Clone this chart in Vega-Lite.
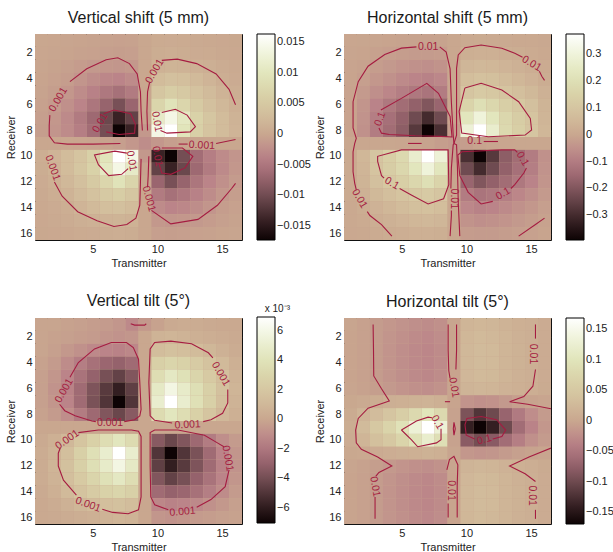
{
"$schema":"https://vega.github.io/schema/vega-lite/v6.json",
"padding":{"left":5,"top":9,"right":0,"bottom":0},
"background":"white",
"config":{
 "font":"Liberation Sans",
 "view":{"stroke":"#111","strokeWidth":1,"fill":"#c9a78f"},
 "axis":{"domain":false,"grid":false,"ticks":false,"tickColor":"#222","tickWidth":1,"labelFontSize":11,"labelColor":"#222","labelPadding":3,"titleFontSize":11,"titleFontWeight":"normal","titleColor":"#222","titlePadding":3,"labelFont":"Liberation Sans","titleFont":"Liberation Sans"},
 "title":{"fontSize":16,"fontWeight":"normal","color":"#1a1a1a","font":"Liberation Sans","offset":8,"anchor":"middle"},
 "legend":{"gradientLength":206,"gradientThickness":18,"gradientStrokeColor":"#000","gradientStrokeWidth":1,"labelFontSize":11,"labelColor":"#222","labelOffset":3,"labelOverlap":false,"labelFont":"Liberation Sans","titleFont":"Liberation Sans","titleFontSize":10,"titleFontWeight":"normal","titleColor":"#222"}
},
"datasets":{
"grid":[
{"p":"VS","r":1,"v":[0,-0.0001,-0.0002,-0.0003,-0.0004,-0.0005,-0.0006,-0.0005,0,0.0005,0.0006,0.0005,0.0004,0.0003,0.0002,0.0001]},
{"p":"VS","r":2,"v":[-0.0001,-0.0002,-0.0003,-0.0005,-0.0006,-0.0008,-0.0009,-0.0008,0,0.0008,0.0009,0.0008,0.0006,0.0005,0.0003,0.0002]},
{"p":"VS","r":3,"v":[-0.0002,-0.0004,-0.0007,-0.0011,-0.0014,-0.0016,-0.0017,-0.0015,0,0.0015,0.0017,0.0016,0.0014,0.0011,0.0007,0.0004]},
{"p":"VS","r":4,"v":[-0.0003,-0.0006,-0.001,-0.0018,-0.0026,-0.0032,-0.0035,-0.0028,0,0.0028,0.0035,0.0032,0.0026,0.0018,0.001,0.0006]},
{"p":"VS","r":5,"v":[-0.0004,-0.0009,-0.0016,-0.0027,-0.0038,-0.0049,-0.0057,-0.0045,-0.0001,0.0045,0.0057,0.0049,0.0038,0.0027,0.0016,0.0009]},
{"p":"VS","r":6,"v":[-0.0006,-0.0012,-0.0023,-0.0035,-0.0051,-0.0072,-0.0095,-0.007,-0.0002,0.007,0.0095,0.0072,0.0051,0.0035,0.0023,0.0012]},
{"p":"VS","r":7,"v":[-0.0008,-0.0016,-0.0029,-0.0045,-0.0066,-0.0105,-0.014,-0.011,-0.0005,0.011,0.014,0.0105,0.0066,0.0045,0.0029,0.0016]},
{"p":"VS","r":8,"v":[-0.0009,-0.0018,-0.0028,-0.0041,-0.0061,-0.0098,-0.0173,-0.014,-0.0015,0.014,0.0163,0.0098,0.0061,0.0041,0.0028,0.0018]},
{"p":"VS","r":9,"v":[0,0,0,-0.0001,-0.0002,-0.0004,-0.0008,-0.0016,-0.0026,-0.0016,-0.0008,-0.0004,-0.0002,-0.0001,0,0]},
{"p":"VS","r":10,"v":[0.0009,0.0018,0.0028,0.0041,0.0061,0.0098,0.0163,0.014,-0.0015,-0.014,-0.0173,-0.0098,-0.0061,-0.0041,-0.0028,-0.0018]},
{"p":"VS","r":11,"v":[0.0008,0.0016,0.0029,0.0045,0.0066,0.0105,0.014,0.011,-0.0005,-0.011,-0.014,-0.0105,-0.0066,-0.0045,-0.0029,-0.0016]},
{"p":"VS","r":12,"v":[0.0006,0.0012,0.0023,0.0035,0.0051,0.0072,0.0095,0.007,-0.0002,-0.007,-0.0095,-0.0072,-0.0051,-0.0035,-0.0023,-0.0012]},
{"p":"VS","r":13,"v":[0.0004,0.0009,0.0016,0.0027,0.0038,0.0049,0.0057,0.0045,-0.0001,-0.0045,-0.0057,-0.0049,-0.0038,-0.0027,-0.0016,-0.0009]},
{"p":"VS","r":14,"v":[0.0003,0.0006,0.001,0.0018,0.0026,0.0032,0.0035,0.0028,0,-0.0028,-0.0035,-0.0032,-0.0026,-0.0018,-0.001,-0.0006]},
{"p":"VS","r":15,"v":[0.0002,0.0004,0.0007,0.0011,0.0014,0.0016,0.0017,0.0015,0,-0.0015,-0.0017,-0.0016,-0.0014,-0.0011,-0.0007,-0.0004]},
{"p":"VS","r":16,"v":[0.0001,0.0002,0.0003,0.0005,0.0006,0.0008,0.0009,0.0008,0,-0.0008,-0.0009,-0.0008,-0.0006,-0.0005,-0.0003,-0.0002]},
{"p":"HS","r":1,"v":[-0.002,-0.003,-0.005,-0.007,-0.009,-0.01,-0.011,-0.009,0,0.009,0.011,0.01,0.009,0.007,0.005,0.003]},
{"p":"HS","r":2,"v":[-0.004,-0.007,-0.013,-0.018,-0.023,-0.027,-0.028,-0.024,0,0.024,0.028,0.027,0.023,0.018,0.013,0.007]},
{"p":"HS","r":3,"v":[-0.006,-0.012,-0.022,-0.032,-0.042,-0.05,-0.054,-0.046,0,0.046,0.054,0.05,0.042,0.032,0.022,0.012]},
{"p":"HS","r":4,"v":[-0.007,-0.018,-0.035,-0.05,-0.065,-0.078,-0.085,-0.072,0,0.072,0.085,0.078,0.065,0.05,0.035,0.018]},
{"p":"HS","r":5,"v":[-0.008,-0.03,-0.055,-0.075,-0.095,-0.11,-0.12,-0.1,0,0.1,0.12,0.11,0.095,0.075,0.055,0.03]},
{"p":"HS","r":6,"v":[-0.008,-0.04,-0.08,-0.11,-0.14,-0.17,-0.2,-0.16,-0.003,0.16,0.2,0.17,0.14,0.11,0.08,0.04]},
{"p":"HS","r":7,"v":[-0.008,-0.045,-0.095,-0.13,-0.17,-0.23,-0.3,-0.23,-0.008,0.23,0.3,0.23,0.17,0.13,0.095,0.045]},
{"p":"HS","r":8,"v":[-0.008,-0.05,-0.1,-0.14,-0.18,-0.27,-0.393,-0.29,-0.02,0.29,0.376,0.27,0.18,0.14,0.1,0.05]},
{"p":"HS","r":9,"v":[0,0,0,0,-0.002,-0.005,-0.01,-0.02,-0.03,-0.02,-0.01,-0.005,-0.002,0,0,0]},
{"p":"HS","r":10,"v":[0.008,0.05,0.1,0.14,0.18,0.27,0.376,0.29,-0.02,-0.29,-0.393,-0.27,-0.18,-0.14,-0.1,-0.05]},
{"p":"HS","r":11,"v":[0.008,0.045,0.095,0.13,0.17,0.23,0.3,0.23,-0.008,-0.23,-0.3,-0.23,-0.17,-0.13,-0.095,-0.045]},
{"p":"HS","r":12,"v":[0.008,0.04,0.08,0.11,0.14,0.17,0.2,0.16,-0.003,-0.16,-0.2,-0.17,-0.14,-0.11,-0.08,-0.04]},
{"p":"HS","r":13,"v":[0.008,0.03,0.055,0.075,0.095,0.11,0.12,0.1,0,-0.1,-0.12,-0.11,-0.095,-0.075,-0.055,-0.03]},
{"p":"HS","r":14,"v":[0.007,0.018,0.035,0.05,0.065,0.078,0.085,0.072,0,-0.072,-0.085,-0.078,-0.065,-0.05,-0.035,-0.018]},
{"p":"HS","r":15,"v":[0.006,0.012,0.022,0.032,0.042,0.05,0.054,0.046,0,-0.046,-0.054,-0.05,-0.042,-0.032,-0.022,-0.012]},
{"p":"HS","r":16,"v":[0.004,0.007,0.013,0.018,0.023,0.027,0.028,0.024,0,-0.024,-0.028,-0.027,-0.023,-0.018,-0.013,-0.007]},
{"p":"VT","r":1,"v":[-0.0001,-0.0001,-0.0002,-0.0003,-0.0004,-0.0005,-0.0007,-0.0012,-0.0006,-0.0002,0.0002,0.0003,0.0003,0.0002,0.0001,0.0001]},
{"p":"VT","r":2,"v":[-0.0001,-0.0002,-0.0003,-0.0004,-0.0005,-0.0007,-0.0008,-0.0007,0,0.0007,0.0008,0.0007,0.0005,0.0004,0.0003,0.0002]},
{"p":"VT","r":3,"v":[-0.0001,-0.0003,-0.0006,-0.0009,-0.0012,-0.0014,-0.0015,-0.0013,0,0.0013,0.0015,0.0014,0.0012,0.0009,0.0006,0.0003]},
{"p":"VT","r":4,"v":[-0.0002,-0.0005,-0.0011,-0.0017,-0.0023,-0.0028,-0.003,-0.0026,0,0.0026,0.003,0.0028,0.0023,0.0017,0.0011,0.0005]},
{"p":"VT","r":5,"v":[-0.0003,-0.0007,-0.0014,-0.0022,-0.003,-0.0039,-0.0045,-0.0036,0,0.0036,0.0045,0.0039,0.003,0.0022,0.0014,0.0007]},
{"p":"VT","r":6,"v":[-0.0003,-0.0008,-0.0015,-0.0026,-0.0037,-0.0048,-0.0059,-0.0046,0,0.0046,0.0059,0.0048,0.0037,0.0026,0.0015,0.0008]},
{"p":"VT","r":7,"v":[-0.0003,-0.0007,-0.0014,-0.0026,-0.0038,-0.005,-0.00705,-0.005,0,0.005,0.00694,0.005,0.0038,0.0026,0.0014,0.0007]},
{"p":"VT","r":8,"v":[-0.0002,-0.0005,-0.001,-0.0018,-0.0027,-0.0036,-0.0043,-0.0034,0,0.0034,0.0043,0.0036,0.0027,0.0018,0.001,0.0005]},
{"p":"VT","r":9,"v":[0,0,0,0,0,0,0,0,0,0,0,0,0,0,0,0]},
{"p":"VT","r":10,"v":[0.0002,0.0005,0.001,0.0018,0.0027,0.0036,0.0043,0.0034,0,-0.0034,-0.0043,-0.0036,-0.0027,-0.0018,-0.001,-0.0005]},
{"p":"VT","r":11,"v":[0.0003,0.0007,0.0014,0.0026,0.0038,0.005,0.00694,0.005,0,-0.005,-0.00705,-0.005,-0.0038,-0.0026,-0.0014,-0.0007]},
{"p":"VT","r":12,"v":[0.0003,0.0008,0.0015,0.0026,0.0037,0.0048,0.0059,0.0046,0,-0.0046,-0.0059,-0.0048,-0.0037,-0.0026,-0.0015,-0.0008]},
{"p":"VT","r":13,"v":[0.0003,0.0007,0.0014,0.0022,0.003,0.0039,0.0045,0.0036,0,-0.0036,-0.0045,-0.0039,-0.003,-0.0022,-0.0014,-0.0007]},
{"p":"VT","r":14,"v":[0.0002,0.0005,0.0011,0.0017,0.0023,0.0028,0.003,0.0026,0,-0.0026,-0.003,-0.0028,-0.0023,-0.0017,-0.0011,-0.0005]},
{"p":"VT","r":15,"v":[0.0001,0.0003,0.0006,0.0009,0.0012,0.0014,0.0015,0.0013,0,-0.0013,-0.0015,-0.0014,-0.0012,-0.0009,-0.0006,-0.0003]},
{"p":"VT","r":16,"v":[0.0001,0.0002,0.0003,0.0004,0.0005,0.0007,0.0008,0.0007,0,-0.0007,-0.0008,-0.0007,-0.0005,-0.0004,-0.0003,-0.0002]},
{"p":"HT","r":1,"v":[-0.002,-0.006,-0.011,-0.015,-0.019,-0.023,-0.026,-0.022,-0.002,0.019,0.022,0.021,0.017,0.013,0.011,0.006]},
{"p":"HT","r":2,"v":[-0.003,-0.006,-0.011,-0.017,-0.022,-0.027,-0.03,-0.025,-0.003,0.022,0.026,0.024,0.019,0.014,0.011,0.006]},
{"p":"HT","r":3,"v":[-0.003,-0.006,-0.011,-0.018,-0.024,-0.029,-0.032,-0.027,-0.003,0.024,0.028,0.026,0.02,0.015,0.011,0.006]},
{"p":"HT","r":4,"v":[-0.003,-0.006,-0.011,-0.018,-0.024,-0.029,-0.032,-0.027,-0.003,0.024,0.028,0.026,0.02,0.015,0.011,0.006]},
{"p":"HT","r":5,"v":[-0.003,-0.006,-0.011,-0.017,-0.023,-0.028,-0.031,-0.026,-0.003,0.023,0.027,0.025,0.019,0.014,0.011,0.006]},
{"p":"HT","r":6,"v":[-0.002,-0.005,-0.009,-0.014,-0.018,-0.022,-0.024,-0.02,-0.002,0.018,0.021,0.02,0.016,0.013,0.01,0.005]},
{"p":"HT","r":7,"v":[0.001,0.004,0.008,0.011,0.013,0.015,0.017,0.013,-0.003,-0.018,-0.022,-0.02,-0.014,-0.008,-0.004,-0.002]},
{"p":"HT","r":8,"v":[0.005,0.018,0.03,0.045,0.06,0.08,0.1,0.08,-0.005,-0.09,-0.12,-0.1,-0.07,-0.045,-0.025,-0.012]},
{"p":"HT","r":9,"v":[0.008,0.028,0.05,0.07,0.095,0.13,0.168,0.13,-0.005,-0.14,-0.169,-0.14,-0.1,-0.06,-0.035,-0.015]},
{"p":"HT","r":10,"v":[0.006,0.02,0.035,0.05,0.07,0.095,0.12,0.09,-0.005,-0.08,-0.095,-0.08,-0.06,-0.04,-0.022,-0.012]},
{"p":"HT","r":11,"v":[0.001,0.003,0.006,0.009,0.011,0.013,0.015,0.012,-0.002,-0.015,-0.018,-0.016,-0.012,-0.007,-0.004,-0.002]},
{"p":"HT","r":12,"v":[-0.002,-0.005,-0.009,-0.014,-0.018,-0.022,-0.024,-0.02,-0.002,0.018,0.021,0.02,0.016,0.013,0.01,0.005]},
{"p":"HT","r":13,"v":[-0.003,-0.006,-0.011,-0.017,-0.023,-0.028,-0.031,-0.026,-0.003,0.023,0.027,0.025,0.019,0.014,0.011,0.006]},
{"p":"HT","r":14,"v":[-0.003,-0.006,-0.011,-0.018,-0.024,-0.029,-0.032,-0.027,-0.003,0.024,0.028,0.026,0.02,0.015,0.011,0.006]},
{"p":"HT","r":15,"v":[-0.003,-0.006,-0.011,-0.018,-0.024,-0.029,-0.032,-0.027,-0.003,0.024,0.028,0.026,0.02,0.015,0.011,0.006]},
{"p":"HT","r":16,"v":[-0.003,-0.006,-0.011,-0.017,-0.022,-0.027,-0.03,-0.025,-0.003,0.022,0.026,0.024,0.019,0.014,0.011,0.006]}
],
"cont":[
{"p":"VS","s":"a1","t":[3.2,4.5,6.0,6.9,7.8,8.4,8.65,8.7,8.8],"r":[4.2,3.2,2.5,2.35,2.8,3.6,5.0,6.5,8.0]},
{"p":"VS","s":"a2","t":[7.1,5.0,3.0,2.0,1.6,1.6,1.65],"r":[9.0,9.05,9.05,8.95,8.4,7.6,6.8]},
{"p":"VS","s":"b1","t":[6.0,7.0,8.2,8.25,7.9,6.6,5.8],"r":[8.1,8.3,8.2,7.5,6.7,6.4,6.7]},
{"p":"VS","s":"c1","t":[9.2,9.15,9.2,9.35],"r":[8.0,6.5,5.0,4.3]},
{"p":"VS","s":"c2","t":[10.3,11.5,13.0,14.5,15.5,16.0],"r":[2.55,2.45,2.8,3.6,4.8,6.0]},
{"p":"VS","s":"c3","t":[11.6,12.3],"r":[9.05,9.05]},
{"p":"VS","s":"c4","t":[14.5,16.0],"r":[9.0,8.7]},
{"p":"VS","s":"d1","t":[10.2,10.7,12.5,12.9,12.26,11.35,10.3],"r":[8.0,8.2,8.1,7.7,6.8,6.35,6.6]},
{"p":"VS","s":"e1","t":[2.0,2.6,3.8,5.3,6.6,7.6,8.3,8.6,8.65,8.7],"r":[12.0,13.1,14.3,15.0,15.45,15.3,14.8,13.8,12.0,10.2]},
{"p":"VS","s":"f1","t":[7.7,7.2,6.2,5.4,5.1,6.67,7.6],"r":[10.95,11.4,11.5,10.65,9.9,9.6,9.75]},
{"p":"VS","s":"g1","t":[9.3,9.25,9.2],"r":[10.0,11.5,12.4]},
{"p":"VS","s":"g2","t":[9.5,11.0,13.1,14.6,15.7,16.0],"r":[14.2,15.25,14.9,13.8,12.5,12.1]},
{"p":"VS","s":"h1","t":[10.1,10.3,11.0,12.1,12.7,11.9,10.3],"r":[10.6,11.3,11.4,10.9,10.0,9.36,9.36]},
{"p":"HS","s":"O1","t":[6.1,4.94,3.65,2.36,1.6,1.2,1.2,1.45,1.33,1.2,1.2,1.33,1.45],"r":[1.5,1.6,2.1,3.0,4.2,5.76,7.8,8.6,9.0,9.65,11.2,12.1,12.6]},
{"p":"HS","s":"O2","t":[2.3,2.5,3.4,4.2],"r":[14.3,14.6,15.3,16.2]},
{"p":"HS","s":"O3","t":[7.9,8.4,8.7,8.8,8.94,9.0,8.94,8.8,8.76],"r":[1.5,1.9,3.2,5.8,8.35,9.0,9.1,10.9,12.5]},
{"p":"HS","s":"O4","t":[8.8,8.8,8.7],"r":[14.2,14.6,16.2]},
{"p":"HS","s":"O5","t":[9.0,9.2,9.2,9.2,9.33,9.84,11.1,12.7,13.7,14.3],"r":[9.0,8.35,5.76,3.17,2.13,1.56,1.35,1.6,2.0,2.3]},
{"p":"HS","s":"O6","t":[15.6,15.8,16.0],"r":[3.4,3.8,4.1]},
{"p":"HS","s":"O7","t":[9.0,9.2,9.27,9.33,9.45],"r":[9.0,9.1,10.9,13.5,16.2]},
{"p":"HS","s":"O8","t":[14.0,15.3,16.0],"r":[16.2,15.3,14.8]},
{"p":"HS","s":"N1","t":[3.35,4.94,6.9,7.8,8.7,8.85,8.0,6.0,4.0,3.4,3.2],"r":[6.4,5.5,4.33,5.1,6.9,8.5,8.45,8.4,8.3,8.2,7.8]},
{"p":"HS","s":"N2","t":[9.84,11.1,12.7,14.0,14.9,15.0,14.5,11.65,9.6,9.4,9.84],"r":[4.7,4.33,4.85,5.76,7.05,7.96,8.35,8.48,8.2,6.5,4.7]},
{"p":"HS","s":"N3","t":[4.8,5.7,7.0,8.2,8.6,8.55,4.94,3.1,3.1,3.4,3.6],"r":[12.5,13.0,13.7,13.3,12.2,9.5,9.5,10.0,10.4,11.5,11.7]},
{"p":"HS","s":"N4","t":[13.9,13.7,12.7,9.6,9.3,9.45,10.1,11.1,12.0],"r":[9.7,9.5,9.5,9.65,9.9,11.5,12.8,13.7,13.5]},
{"p":"HS","s":"N5","t":[13.4,13.7,14.4,14.6],"r":[12.5,12.2,11.3,10.9]},
{"p":"HS","s":"H1","t":[5.45,6.5],"r":[9.0,9.0]},
{"p":"HS","s":"H2","t":[11.3,12.4],"r":[8.85,8.85]},
{"p":"VT","s":"T0","t":[7.9,8.2,8.98,9.1],"r":[0.95,1.05,1.05,0.95]},
{"p":"VT","s":"U1","t":[3.2,3.85,5.1,6.4,7.57,8.1,8.5,8.6,8.7,8.6,8.2,7.4],"r":[5.1,3.96,2.9,2.4,2.4,2.8,3.7,5.5,7.6,8.1,8.4,8.55]},
{"p":"VT","s":"U2","t":[5.2,4.9,3.6,2.8,2.4],"r":[8.55,8.5,8.1,7.7,7.2]},
{"p":"VT","s":"V1","t":[14.25,13.9,12.6,11.0,9.75,9.4,9.3,9.4,9.75,11.1],"r":[3.6,3.2,2.5,2.3,2.4,2.9,5.5,8.1,8.45,8.65]},
{"p":"VT","s":"V2","t":[13.5,14.1,15.0,15.4,15.4],"r":[8.55,8.4,7.9,7.1,6.05]},
{"p":"VT","s":"W1","t":[3.85,5.4,7.96,8.5,8.7,8.7,8.7,8.5,7.7,6.5,5.7],"r":[9.4,9.2,9.2,9.3,9.7,12.0,14.4,15.4,15.7,15.6,15.35]},
{"p":"VT","s":"W2","t":[3.7,2.7,2.3,2.3,2.45],"r":[14.25,13.1,12.0,11.0,10.6]},
{"p":"VT","s":"X1","t":[9.4,9.4,9.75,11.55,13.6,14.6,15.1],"r":[9.65,9.4,9.2,9.2,9.6,10.2,10.5]},
{"p":"VT","s":"X2","t":[15.5,15.2,14.1,13.0],"r":[12.3,13.6,14.6,15.2]},
{"p":"VT","s":"X3","t":[10.8,9.75,9.45,9.4,9.4],"r":[15.4,15.0,14.4,12.0,9.65]},
{"p":"HT","s":"L1","t":[2.75,2.78,2.8,3.4,4.0,2.36,1.6,1.4,1.45,1.84,3.1,4.2,3.2,2.95],"r":[1.0,3.0,5.0,6.0,6.95,7.5,8.3,9.2,10.2,10.7,11.3,12.0,12.5,12.8]},
{"p":"HT","s":"L2","t":[2.9,2.9,2.9],"r":[14.4,15.5,16.1]},
{"p":"HT","s":"R1","t":[15.3,15.3],"r":[1.0,2.1]},
{"p":"HT","s":"R2","t":[15.3,15.1,14.4,13.3,14.7,16.5],"r":[4.5,5.8,6.6,7.0,7.2,7.55]},
{"p":"HT","s":"R3","t":[16.5,14.8,13.3,14.5,15.3],"r":[10.6,11.3,12.0,12.6,13.2]},
{"p":"HT","s":"R4","t":[15.3,15.3],"r":[15.4,16.1]},
{"p":"HT","s":"C1","t":[8.55,8.55,8.6,8.7],"r":[1.0,3.0,4.6,5.2]},
{"p":"HT","s":"C2","t":[9.2,9.2,9.15],"r":[1.0,3.0,4.5]},
{"p":"HT","s":"C3","t":[8.3,8.7],"r":[7.0,7.0]},
{"p":"HT","s":"C4","t":[9.0,9.1,9.0,8.95,9.0],"r":[8.6,9.1,9.6,9.1,8.6]},
{"p":"HT","s":"C5","t":[8.45,8.65,9.0,9.3,9.25,9.25],"r":[12.3,11.5,11.25,11.9,13.5,16.0]},
{"p":"HT","s":"C6","t":[8.55,8.55],"r":[14.9,16.0]},
{"p":"HT","s":"I1","t":[4.94,6.1,7.0,7.3],"r":[9.2,8.5,8.2,8.25]},
{"p":"HT","s":"I2","t":[8.0,8.0,7.65,6.2,5.7,4.94],"r":[9.1,9.95,10.2,10.5,9.95,9.2]},
{"p":"HT","s":"I3","t":[10.6,9.95,9.85,10.0,11.1,12.3,13.0,12.7,12.0],"r":[9.9,9.6,8.8,8.3,8.15,8.4,9.2,9.7,9.9]}
],
"labs":[
{"p":"VS","lab":"0.001","t":2.3,"r":5.6,"a":-60},
{"p":"VS","lab":"0.01","t":5.55,"r":7.4,"a":-60},
{"p":"VS","lab":"0.001","t":9.75,"r":3.4,"a":-60},
{"p":"VS","lab":"0.001","t":13.4,"r":9.15,"a":3},
{"p":"VS","lab":"0.01","t":9.9,"r":7.3,"a":80},
{"p":"VS","lab":"0.001","t":1.85,"r":10.9,"a":70},
{"p":"VS","lab":"0.01","t":7.95,"r":10.35,"a":80},
{"p":"VS","lab":"0.001","t":9.3,"r":13.3,"a":75},
{"p":"VS","lab":"0.01","t":9.95,"r":10.0,"a":80},
{"p":"HS","lab":"0.01","t":7.0,"r":1.54,"a":0},
{"p":"HS","lab":"0.01","t":15.0,"r":2.8,"a":30},
{"p":"HS","lab":"0.01","t":1.7,"r":13.3,"a":60},
{"p":"HS","lab":"0.01","t":9.0,"r":13.3,"a":90},
{"p":"HS","lab":"0.1","t":3.3,"r":7.1,"a":-70},
{"p":"HS","lab":"0.1","t":10.6,"r":8.8,"a":0},
{"p":"HS","lab":"0.1","t":4.2,"r":12.1,"a":30},
{"p":"HS","lab":"0.1","t":12.8,"r":12.9,"a":-30},
{"p":"HS","lab":"0.1","t":14.3,"r":10.2,"a":60},
{"p":"VT","lab":"0.001","t":2.75,"r":6.15,"a":-60},
{"p":"VT","lab":"0.001","t":6.3,"r":8.65,"a":0},
{"p":"VT","lab":"0.001","t":14.85,"r":4.85,"a":60},
{"p":"VT","lab":"0.001","t":12.3,"r":8.8,"a":-3},
{"p":"VT","lab":"0.001","t":3.0,"r":9.95,"a":-35},
{"p":"VT","lab":"0.001","t":4.6,"r":15.0,"a":20},
{"p":"VT","lab":"0.001","t":15.4,"r":11.4,"a":80},
{"p":"VT","lab":"0.001","t":11.9,"r":15.55,"a":-5},
{"p":"HT","lab":"0.01","t":2.9,"r":13.6,"a":80},
{"p":"HT","lab":"0.01","t":15.1,"r":3.3,"a":90},
{"p":"HT","lab":"0.01","t":15.05,"r":14.3,"a":90},
{"p":"HT","lab":"0.01","t":9.0,"r":5.9,"a":80},
{"p":"HT","lab":"0.01","t":8.75,"r":13.9,"a":90},
{"p":"HT","lab":"0.1","t":7.7,"r":8.6,"a":60},
{"p":"HT","lab":"0.1","t":11.35,"r":9.95,"a":-15}
]
},
"concat":[
{"title":"Vertical shift (5 mm)","width":207,"height":206,
 "resolve":{"scale":{"x":"independent","y":"independent"},"axis":{"x":"independent","y":"independent"}},
 "layer":[
  {"data":{"name":"grid"},"transform":[{"filter":"datum.p==='VS'"},{"flatten":["v"]},{"window":[{"op":"row_number","as":"t"}],"groupby":["r"]}],
   "mark":{"type":"rect"},
   "encoding":{
    "x":{"field":"t","type":"ordinal","scale":{"paddingInner":0,"paddingOuter":0},"axis":{"values":[5,10,15],"title":"Transmitter","labelAngle":0}},
    "y":{"field":"r","type":"ordinal","scale":{"paddingInner":0,"paddingOuter":0},"axis":{"values":[2,4,6,8,10,12,14,16],"title":"Receiver"}},
    "color":{"field":"v","type":"quantitative","scale":{"domain":[-0.0173,-0.01384,-0.01038,-0.00692,-0.00346,0,0.00326,0.00652,0.00978,0.01304,0.0163],"range":["#0d0304","#3b2427","#6c494e","#9b6670","#bb8489","#c9a78f","#d3bf9d","#d9d2a8","#e1e5bb","#eff3da","#ffffff"],"interpolate":"rgb","clamp":true},
     "legend":{"type":"gradient","values":[-0.015,-0.01,-0.005,0,0.005,0.01,0.015],"labelExpr":"format(datum.value,'~g')","orient":"none","legendX":222,"legendY":0,"direction":"vertical","title":null}}
   }},
  {"data":{"name":"cont"},"transform":[{"filter":"datum.p==='VS'"},{"flatten":["t","r"]},{"window":[{"op":"row_number","as":"o"}],"groupby":["s"]}],
   "mark":{"type":"line","color":"#a51c41","strokeWidth":1.1,"clip":true},
   "encoding":{
    "x":{"field":"t","type":"quantitative","scale":{"domain":[0.5,16.5],"nice":false,"zero":false},"axis":{"orient":"top","values":[5,10,15],"labels":false,"title":null,"ticks":true,"tickSize":3,"offset":-3}},
    "y":{"field":"r","type":"quantitative","scale":{"domain":[0.5,16.5],"nice":false,"zero":false,"reverse":true},"axis":{"orient":"right","values":[2,4,6,8,10,12,14,16],"labels":false,"title":null,"ticks":true,"tickSize":3,"offset":-3}},
    "detail":{"field":"s"},"order":{"field":"o"}
   }},
  {"data":{"name":"labs"},"transform":[{"filter":"datum.p==='VS'"}],
   "mark":{"type":"text","color":"#a51c41","fontSize":10.5,"font":"Liberation Sans"},
   "encoding":{
    "x":{"field":"t","type":"quantitative","scale":{"domain":[0.5,16.5],"nice":false,"zero":false},"axis":{"orient":"bottom","values":[5,10,15],"labels":false,"title":null,"ticks":true,"tickSize":3,"offset":-3}},
    "y":{"field":"r","type":"quantitative","scale":{"domain":[0.5,16.5],"nice":false,"zero":false,"reverse":true},"axis":{"orient":"left","values":[2,4,6,8,10,12,14,16],"labels":false,"title":null,"ticks":true,"tickSize":3,"offset":-3}},
    "text":{"field":"lab"},"angle":{"field":"a","type":"quantitative","scale":null}
   }}
 ]},
{"title":"Horizontal shift (5 mm)","width":207,"height":206,
 "resolve":{"scale":{"x":"independent","y":"independent"},"axis":{"x":"independent","y":"independent"}},
 "layer":[
  {"data":{"name":"grid"},"transform":[{"filter":"datum.p==='HS'"},{"flatten":["v"]},{"window":[{"op":"row_number","as":"t"}],"groupby":["r"]}],
   "mark":{"type":"rect"},
   "encoding":{
    "x":{"field":"t","type":"ordinal","scale":{"paddingInner":0,"paddingOuter":0},"axis":{"values":[5,10,15],"title":"Transmitter","labelAngle":0}},
    "y":{"field":"r","type":"ordinal","scale":{"paddingInner":0,"paddingOuter":0},"axis":{"values":[2,4,6,8,10,12,14,16],"title":"Receiver"}},
    "color":{"field":"v","type":"quantitative","scale":{"domain":[-0.393,-0.3144,-0.2358,-0.1572,-0.0786,0,0.0752,0.1504,0.2256,0.3008,0.376],"range":["#0d0304","#3b2427","#6c494e","#9b6670","#bb8489","#c9a78f","#d3bf9d","#d9d2a8","#e1e5bb","#eff3da","#ffffff"],"interpolate":"rgb","clamp":true},
     "legend":{"type":"gradient","values":[-0.3,-0.2,-0.1,0,0.1,0.2,0.3],"labelExpr":"format(datum.value,'~g')","orient":"none","legendX":222,"legendY":0,"direction":"vertical","title":null}}
   }},
  {"data":{"name":"cont"},"transform":[{"filter":"datum.p==='HS'"},{"flatten":["t","r"]},{"window":[{"op":"row_number","as":"o"}],"groupby":["s"]}],
   "mark":{"type":"line","color":"#a51c41","strokeWidth":1.1,"clip":true},
   "encoding":{
    "x":{"field":"t","type":"quantitative","scale":{"domain":[0.5,16.5],"nice":false,"zero":false},"axis":{"orient":"top","values":[5,10,15],"labels":false,"title":null,"ticks":true,"tickSize":3,"offset":-3}},
    "y":{"field":"r","type":"quantitative","scale":{"domain":[0.5,16.5],"nice":false,"zero":false,"reverse":true},"axis":{"orient":"right","values":[2,4,6,8,10,12,14,16],"labels":false,"title":null,"ticks":true,"tickSize":3,"offset":-3}},
    "detail":{"field":"s"},"order":{"field":"o"}
   }},
  {"data":{"name":"labs"},"transform":[{"filter":"datum.p==='HS'"}],
   "mark":{"type":"text","color":"#a51c41","fontSize":10.5,"font":"Liberation Sans"},
   "encoding":{
    "x":{"field":"t","type":"quantitative","scale":{"domain":[0.5,16.5],"nice":false,"zero":false},"axis":{"orient":"bottom","values":[5,10,15],"labels":false,"title":null,"ticks":true,"tickSize":3,"offset":-3}},
    "y":{"field":"r","type":"quantitative","scale":{"domain":[0.5,16.5],"nice":false,"zero":false,"reverse":true},"axis":{"orient":"left","values":[2,4,6,8,10,12,14,16],"labels":false,"title":null,"ticks":true,"tickSize":3,"offset":-3}},
    "text":{"field":"lab"},"angle":{"field":"a","type":"quantitative","scale":null}
   }}
 ]},
{"title":{"text":"Vertical tilt (5°)","dy":13},"width":207,"height":206,
 "resolve":{"scale":{"x":"independent","y":"independent"},"axis":{"x":"independent","y":"independent"}},
 "layer":[
  {"data":{"name":"grid"},"transform":[{"filter":"datum.p==='VT'"},{"flatten":["v"]},{"window":[{"op":"row_number","as":"t"}],"groupby":["r"]}],
   "mark":{"type":"rect"},
   "encoding":{
    "x":{"field":"t","type":"ordinal","scale":{"paddingInner":0,"paddingOuter":0},"axis":{"values":[5,10,15],"title":"Transmitter","labelAngle":0}},
    "y":{"field":"r","type":"ordinal","scale":{"paddingInner":0,"paddingOuter":0},"axis":{"values":[2,4,6,8,10,12,14,16],"title":"Receiver"}},
    "color":{"field":"v","type":"quantitative","scale":{"domain":[-0.00705,-0.00564,-0.00423,-0.00282,-0.00141,0,0.001388,0.002776,0.004164,0.005552,0.00694],"range":["#0d0304","#3b2427","#6c494e","#9b6670","#bb8489","#c9a78f","#d3bf9d","#d9d2a8","#e1e5bb","#eff3da","#ffffff"],"interpolate":"rgb","clamp":true},
     "legend":{"type":"gradient","values":[-0.006,-0.004,-0.002,0,0.002,0.004,0.006],"labelExpr":"format(datum.value*1000,'~g')","orient":"none","legendX":222,"legendY":-14,"direction":"vertical","title":"x 10⁻³","titleAnchor":"end","titlePadding":3}}
   }},
  {"data":{"name":"cont"},"transform":[{"filter":"datum.p==='VT'"},{"flatten":["t","r"]},{"window":[{"op":"row_number","as":"o"}],"groupby":["s"]}],
   "mark":{"type":"line","color":"#a51c41","strokeWidth":1.1,"clip":true},
   "encoding":{
    "x":{"field":"t","type":"quantitative","scale":{"domain":[0.5,16.5],"nice":false,"zero":false},"axis":{"orient":"top","values":[5,10,15],"labels":false,"title":null,"ticks":true,"tickSize":3,"offset":-3}},
    "y":{"field":"r","type":"quantitative","scale":{"domain":[0.5,16.5],"nice":false,"zero":false,"reverse":true},"axis":{"orient":"right","values":[2,4,6,8,10,12,14,16],"labels":false,"title":null,"ticks":true,"tickSize":3,"offset":-3}},
    "detail":{"field":"s"},"order":{"field":"o"}
   }},
  {"data":{"name":"labs"},"transform":[{"filter":"datum.p==='VT'"}],
   "mark":{"type":"text","color":"#a51c41","fontSize":10.5,"font":"Liberation Sans"},
   "encoding":{
    "x":{"field":"t","type":"quantitative","scale":{"domain":[0.5,16.5],"nice":false,"zero":false},"axis":{"orient":"bottom","values":[5,10,15],"labels":false,"title":null,"ticks":true,"tickSize":3,"offset":-3}},
    "y":{"field":"r","type":"quantitative","scale":{"domain":[0.5,16.5],"nice":false,"zero":false,"reverse":true},"axis":{"orient":"left","values":[2,4,6,8,10,12,14,16],"labels":false,"title":null,"ticks":true,"tickSize":3,"offset":-3}},
    "text":{"field":"lab"},"angle":{"field":"a","type":"quantitative","scale":null}
   }}
 ]},
{"title":"Horizontal tilt (5°)","width":207,"height":206,
 "resolve":{"scale":{"x":"independent","y":"independent"},"axis":{"x":"independent","y":"independent"}},
 "layer":[
  {"data":{"name":"grid"},"transform":[{"filter":"datum.p==='HT'"},{"flatten":["v"]},{"window":[{"op":"row_number","as":"t"}],"groupby":["r"]}],
   "mark":{"type":"rect"},
   "encoding":{
    "x":{"field":"t","type":"ordinal","scale":{"paddingInner":0,"paddingOuter":0},"axis":{"values":[5,10,15],"title":"Transmitter","labelAngle":0}},
    "y":{"field":"r","type":"ordinal","scale":{"paddingInner":0,"paddingOuter":0},"axis":{"values":[2,4,6,8,10,12,14,16],"title":"Receiver"}},
    "color":{"field":"v","type":"quantitative","scale":{"domain":[-0.169,-0.1352,-0.1014,-0.0676,-0.0338,0,0.0336,0.0672,0.1008,0.1344,0.168],"range":["#0d0304","#3b2427","#6c494e","#9b6670","#bb8489","#c9a78f","#d3bf9d","#d9d2a8","#e1e5bb","#eff3da","#ffffff"],"interpolate":"rgb","clamp":true},
     "legend":{"type":"gradient","values":[-0.15,-0.1,-0.05,0,0.05,0.1,0.15],"labelExpr":"format(datum.value,'~g')","orient":"none","legendX":222,"legendY":0,"direction":"vertical","title":null}}
   }},
  {"data":{"name":"cont"},"transform":[{"filter":"datum.p==='HT'"},{"flatten":["t","r"]},{"window":[{"op":"row_number","as":"o"}],"groupby":["s"]}],
   "mark":{"type":"line","color":"#a51c41","strokeWidth":1.1,"clip":true},
   "encoding":{
    "x":{"field":"t","type":"quantitative","scale":{"domain":[0.5,16.5],"nice":false,"zero":false},"axis":{"orient":"top","values":[5,10,15],"labels":false,"title":null,"ticks":true,"tickSize":3,"offset":-3}},
    "y":{"field":"r","type":"quantitative","scale":{"domain":[0.5,16.5],"nice":false,"zero":false,"reverse":true},"axis":{"orient":"right","values":[2,4,6,8,10,12,14,16],"labels":false,"title":null,"ticks":true,"tickSize":3,"offset":-3}},
    "detail":{"field":"s"},"order":{"field":"o"}
   }},
  {"data":{"name":"labs"},"transform":[{"filter":"datum.p==='HT'"}],
   "mark":{"type":"text","color":"#a51c41","fontSize":10.5,"font":"Liberation Sans"},
   "encoding":{
    "x":{"field":"t","type":"quantitative","scale":{"domain":[0.5,16.5],"nice":false,"zero":false},"axis":{"orient":"bottom","values":[5,10,15],"labels":false,"title":null,"ticks":true,"tickSize":3,"offset":-3}},
    "y":{"field":"r","type":"quantitative","scale":{"domain":[0.5,16.5],"nice":false,"zero":false,"reverse":true},"axis":{"orient":"left","values":[2,4,6,8,10,12,14,16],"labels":false,"title":null,"ticks":true,"tickSize":3,"offset":-3}},
    "text":{"field":"lab"},"angle":{"field":"a","type":"quantitative","scale":null}
   }}
 ]}
],
"columns":2,
"spacing":{"row":78,"column":102},
"bounds":"flush",
"resolve":{"scale":{"color":"independent"}}
}
